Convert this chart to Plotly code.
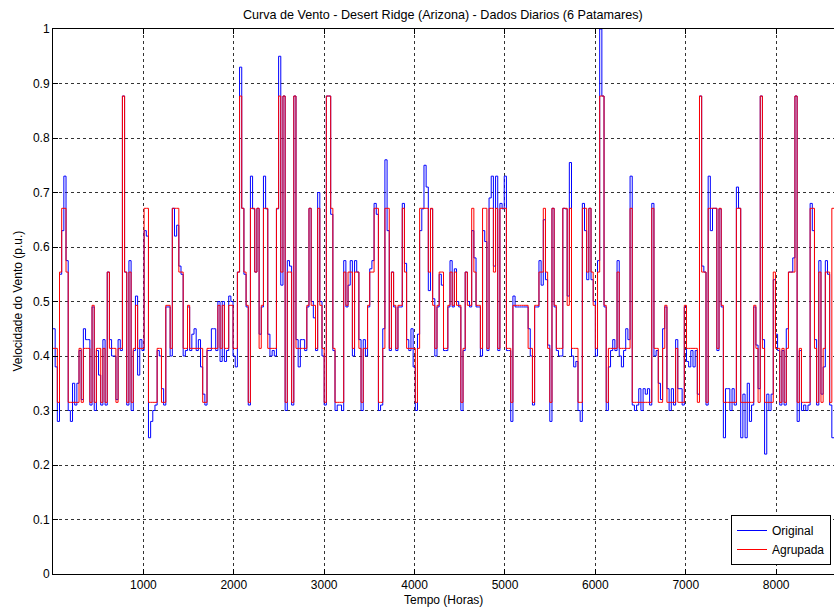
import plotly.graph_objects as go

# Cluster levels (6 patamares), p.u.
LEVELS = [0.315, 0.414, 0.493, 0.554, 0.671, 0.877]

# Daily cluster index for "Agrupada"
RED_IDX = [
    1, 1, 0, 3, 4, 4, 3, 0, 0, 0,
    0, 0, 1, 0, 1, 1, 1, 0, 2, 0,
    1, 1, 0, 1, 0, 3, 1, 1, 1, 0,
    1, 1, 5, 3, 0, 3, 0, 1, 2, 1,
    1, 1, 4, 4, 0, 0, 0, 0, 1, 1,
    0, 0, 2, 2, 1, 4, 4, 4, 3, 3,
    1, 1, 2, 1, 1, 1, 1, 1, 1, 0,
    0, 1, 1, 1, 1, 1, 2, 1, 2, 1,
    1, 2, 2, 1, 1, 3, 5, 4, 3, 2,
    0, 4, 4, 3, 4, 1, 2, 4, 4, 1,
    1, 1, 1, 4, 5, 3, 5, 0, 3, 3,
    0, 5, 1, 1, 1, 1, 1, 2, 4, 2,
    2, 1, 4, 2, 1, 0, 5, 5, 4, 1,
    0, 0, 0, 0, 3, 2, 3, 3, 1, 3,
    3, 1, 0, 1, 1, 2, 3, 3, 4, 4,
    0, 0, 1, 4, 4, 1, 3, 2, 1, 2,
    2, 4, 3, 1, 1, 1, 1, 0, 1, 4,
    4, 4, 4, 3, 4, 2, 1, 2, 3, 3,
    1, 1, 2, 3, 2, 3, 2, 2, 0, 1,
    3, 2, 2, 4, 3, 2, 2, 1, 4, 4,
    1, 4, 4, 3, 4, 1, 4, 4, 4, 1,
    1, 0, 2, 2, 2, 2, 2, 2, 2, 1,
    1, 0, 2, 2, 3, 3, 4, 3, 1, 0,
    4, 2, 1, 1, 1, 4, 4, 2, 4, 1,
    1, 1, 0, 0, 4, 4, 3, 4, 3, 2,
    1, 3, 5, 5, 2, 0, 1, 1, 1, 1,
    3, 1, 1, 1, 1, 1, 4, 0, 0, 0,
    0, 0, 0, 0, 0, 0, 4, 1, 1, 0,
    0, 1, 2, 0, 0, 0, 0, 1, 0, 0,
    0, 2, 1, 1, 1, 1, 1, 0, 5, 3,
    3, 0, 4, 4, 4, 4, 1, 4, 2, 0,
    0, 0, 0, 0, 0, 4, 4, 0, 0, 0,
    0, 0, 0, 2, 1, 0, 5, 1, 0, 0,
    0, 0, 3, 1, 1, 0, 1, 0, 1, 3,
    3, 3, 5, 0, 1, 0, 0, 0, 0, 4,
    4, 1, 0, 3, 0, 1, 3, 3, 0, 4,
]

# Daily original wind speed (p.u.)
BLUE = [
    .45, .38, .28, .55, .63, .73, .575, .30, .28, .35,
    .31, .35, .41, .32, .45, .43, .43, .31, .49, .30,
    .41, .365, .31, .43, .31, .554, .43, .40, .40, .32,
    .43, .41, .877, .554, .31, .575, .30, .41, .51, .365,
    .43, .41, .63, .62, .25, .28, .30, .31, .41, .40,
    .34, .31, .49, .49, .40, .671, .62, .64, .565, .55,
    .40, .41, .49, .41, .44, .45, .41, .43, .38, .33,
    .31, .41, .41, .45, .45, .41, .50, .39, .50, .39,
    .41, .51, .50, .40, .38, .554, .93, .671, .55, .49,
    .31, .73, .67, .554, .671, .44, .49, .73, .67, .44,
    .40, .41, .40, .67, .95, .53, .877, .30, .575, .565,
    .31, .877, .43, .38, .43, .43, .41, .49, .671, .50,
    .47, .41, .70, .50, .40, .31, .877, .877, .66, .41,
    .30, .31, .31, .30, .575, .49, .53, .575, .40, .575,
    .554, .43, .30, .43, .40, .49, .56, .575, .68, .66,
    .30, .31, .45, .76, .63, .41, .554, .49, .41, .49,
    .49, .68, .57, .43, .41, .45, .38, .30, .44, .63,
    .67, .75, .71, .52, .67, .505, .40, .49, .55, .53,
    .41, .41, .49, .575, .49, .56, .50, .49, .30, .41,
    .554, .50, .49, .63, .58, .49, .49, .40, .63, .61,
    .41, .69, .73, .565, .73, .41, .68, .67, .73, .41,
    .41, .28, .51, .49, .49, .49, .49, .49, .49, .45,
    .40, .31, .49, .49, .575, .53, .65, .54, .42, .28,
    .671, .49, .41, .40, .40, .671, .67, .51, .755, .40,
    .38, .39, .30, .28, .68, .63, .54, .671, .54, .50,
    .40, .575, 1.0, .877, .49, .30, .38, .41, .43, .41,
    .575, .40, .38, .41, .45, .43, .73, .31, .30, .31,
    .34, .30, .34, .33, .34, .31, .68, .40, .41, .35,
    .32, .45, .49, .34, .30, .34, .31, .43, .34, .34,
    .31, .49, .39, .38, .41, .38, .41, .33, .877, .565,
    .554, .31, .73, .63, .671, .671, .41, .67, .49, .25,
    .34, .34, .30, .34, .31, .71, .671, .25, .33, .25,
    .35, .28, .31, .49, .42, .34, .877, .43, .22, .33,
    .30, .33, .54, .44, .41, .31, .41, .31, .45, .554,
    .554, .58, .877, .28, .41, .30, .31, .30, .31, .68,
    .63, .43, .31, .575, .33, .38, .575, .55, .31, .25,
]

X_TICKS = [1000, 2000, 3000, 4000, 5000, 6000, 7000, 8000]
Y_TICKS = [0, 0.1, 0.2, 0.3, 0.4, 0.5, 0.6, 0.7, 0.8, 0.9, 1]
Y_TICKTEXT = ["0", "0.1", "0.2", "0.3", "0.4", "0.5", "0.6", "0.7", "0.8", "0.9", "1"]

n = min(len(BLUE), len(RED_IDX))
hours = [24 * d for d in range(n + 1)]
blue_y = BLUE[:n] + [BLUE[n - 1]]
red_vals = [LEVELS[i] for i in RED_IDX[:n]]
red_y = red_vals + [red_vals[-1]]

FONT = "Liberation Sans, Arial, sans-serif"

fig = go.Figure()
fig.add_trace(go.Scatter(x=hours, y=blue_y, mode="lines", line_shape="hv",
                         line=dict(color="#0000ff", width=1), name="Original"))
fig.add_trace(go.Scatter(x=hours, y=red_y, mode="lines", line_shape="hv",
                         line=dict(color="#ff0000", width=1), name="Agrupada"))

L, R, T, B = 53, 0, 29, 35
W, H = 834, 609
plot_w = W - L - R
plot_h = H - T - B

fig.update_layout(
    width=W, height=H,
    margin=dict(l=L, r=R, t=T, b=B, pad=0),
    paper_bgcolor="white", plot_bgcolor="white",
    font=dict(family=FONT, size=12, color="black"),
    showlegend=True,
    legend=dict(x=(831 - L) / plot_w, xanchor="right", y=(574 - 565) / plot_h, yanchor="bottom",
                bgcolor="white", bordercolor="black", borderwidth=1,
                font=dict(family=FONT, size=12), itemwidth=30, tracegroupgap=0),
    xaxis=dict(range=[0, 8640], tickvals=X_TICKS, ticks="inside", ticklen=5, tickcolor="black",
               showline=True, linecolor="black", linewidth=1, mirror="allticks",
               showgrid=True, gridcolor="#333333", gridwidth=1, griddash="3px,3px",
               zeroline=False, tickfont=dict(family=FONT, size=12)),
    yaxis=dict(range=[0, 1], tickvals=Y_TICKS, ticktext=Y_TICKTEXT, ticks="inside", ticklen=5,
               tickcolor="black", showline=True, linecolor="black", linewidth=1, mirror=False,
               showgrid=True, gridcolor="#333333", gridwidth=1, griddash="3px,3px",
               zeroline=False, tickfont=dict(family=FONT, size=12)),
    annotations=[
        dict(text="Curva de Vento - Desert Ridge (Arizona) - Dados Diarios (6 Patamares)",
             xref="paper", yref="paper", x=(443 - L) / plot_w, y=1 + (T - 15) / plot_h,
             xanchor="center", yanchor="middle", showarrow=False, font=dict(size=12.6)),
        dict(text="Tempo (Horas)", xref="paper", yref="paper", x=(443 - L) / plot_w,
             y=-(600 - 574) / plot_h, xanchor="center", yanchor="middle", showarrow=False,
             font=dict(size=12)),
        dict(text="Velocidade do Vento (p.u.)", xref="paper", yref="paper",
             x=-(L - 17) / plot_w, y=0.5, xanchor="center", yanchor="middle",
             textangle=-90, showarrow=False, font=dict(size=12)),
    ],
)

fig.write_html("out.html", config={"displayModeBar": False},
               post_script="document.body.style.margin='0px';document.body.style.overflow='hidden';")
